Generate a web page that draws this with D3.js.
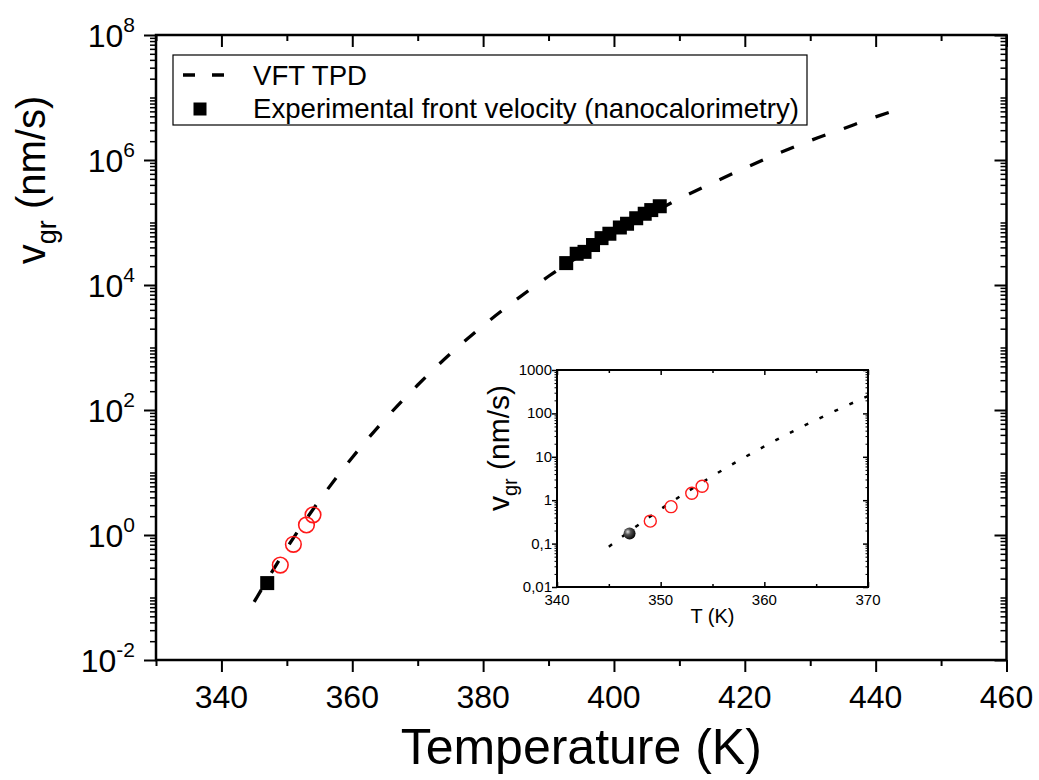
<!DOCTYPE html>
<html><head><meta charset="utf-8">
<script src="https://cdn.jsdelivr.net/npm/d3@7"></script>
<style>
body{margin:0;background:#fff}
svg{display:block}
text{font-family:"Liberation Sans",Arial,Helvetica,sans-serif;fill:#000}
</style>
</head><body>
<svg id="c" width="1039" height="780"></svg>
<script>
// ---- data ----
const curveT = [345, 350, 355, 360, 365, 370, 375, 380, 385, 390, 395, 400, 405, 410, 415, 420, 425, 430, 435, 440, 442];
const curveV = [0.085, 0.62, 3.6, 17.4, 71, 251, 794, 2240, 5750, 13800, 30200, 63100, 126000, 240000, 427000, 741000, 1260000, 2040000, 3160000, 4900000, 5750000];
const expT = [392.7, 394.3, 395.5, 396.8, 398.1, 399.3, 400.9, 402.0, 403.4, 404.7, 405.7, 407.0];
const expV = [22400, 31600, 33900, 43600, 56200, 66100, 83200, 95500, 117000, 138000, 158000, 182000];
const lowT = [347];
const lowV = [0.17];
const openT = [349, 351, 353, 354];
const openV = [0.33, 0.71, 1.45, 2.1];
const xTickVals = [340, 360, 380, 400, 420, 440, 460];
const yTickExps = [-2, 0, 2, 4, 6, 8];
const insetXTicks = [340, 350, 360, 370];
const insetYTicks = [0.01, 0.1, 1, 10, 100, 1000];
const insetYLabels = ["0,01", "0,1", "1", "10", "100", "1000"];
const legendLabels = ["VFT TPD", "Experimental front velocity (nanocalorimetry)"];

const svg = d3.select("#c");
const defs = svg.append("defs");
const g = defs.append("radialGradient").attr("id","sph").attr("cx","35%").attr("cy","35%").attr("r","70%");
g.append("stop").attr("offset","0%").attr("stop-color","#e0e0e0");
g.append("stop").attr("offset","35%").attr("stop-color","#555");
g.append("stop").attr("offset","100%").attr("stop-color","#000");

// fit a dash pattern so that the path starts and ends with a dash
function fitDash(path, dash, period) {
  const len = path.node().getTotalLength();
  const n = Math.max(1, Math.round((len - dash) / period));
  const gap = (len - dash) / n - dash;
  path.attr("stroke-dasharray", `${dash},${gap}`);
}

// ---- main scales ----
const L = 156, R = 1006.5, T = 35, B = 660;
const x = d3.scaleLinear().domain([330, 460]).range([L, R]);
const y = d3.scaleLog().domain([1e-2, 1e8]).range([B, T]);

const minorY = [];
for (let d = -2; d < 8; d++) for (let k = 2; k <= 9; k++) minorY.push(k * Math.pow(10, d));
for (let d = -1; d < 8; d += 2) minorY.push(Math.pow(10, d));
const majorY = yTickExps.map(e => Math.pow(10, e));
const minorX = [330, 350, 370, 390, 410, 430, 450];

function styleAxis(sel, w) {
  sel.select(".domain").remove();
  sel.selectAll(".tick line").attr("stroke", "#000").attr("stroke-width", w);
  sel.selectAll(".tick text").remove();
}
// bottom (outward)
svg.append("g").attr("transform",`translate(0,${B})`).call(d3.axisBottom(x).tickValues(xTickVals).tickSize(12)).call(styleAxis, 2);
svg.append("g").attr("transform",`translate(0,${B})`).call(d3.axisBottom(x).tickValues(minorX).tickSize(6)).call(styleAxis, 2);
// top (inward)
svg.append("g").attr("transform",`translate(0,${T})`).call(d3.axisBottom(x).tickValues(xTickVals).tickSize(12)).call(styleAxis, 2);
svg.append("g").attr("transform",`translate(0,${T})`).call(d3.axisBottom(x).tickValues(minorX).tickSize(6)).call(styleAxis, 2);
// left (outward)
svg.append("g").attr("transform",`translate(${L},0)`).call(d3.axisLeft(y).tickValues(majorY).tickSize(12)).call(styleAxis, 2);
svg.append("g").attr("transform",`translate(${L},0)`).call(d3.axisLeft(y).tickValues(minorY).tickSize(6)).call(styleAxis, 1.5);
// right (inward)
svg.append("g").attr("transform",`translate(${R},0)`).call(d3.axisLeft(y).tickValues(majorY).tickSize(12)).call(styleAxis, 2);
svg.append("g").attr("transform",`translate(${R},0)`).call(d3.axisLeft(y).tickValues(minorY).tickSize(6)).call(styleAxis, 1.5);

svg.append("rect").attr("x", L).attr("y", T).attr("width", R - L).attr("height", B - T)
  .attr("fill", "none").attr("stroke", "#000").attr("stroke-width", 2.5);

// tick labels
svg.append("g").selectAll("text").data(xTickVals).join("text")
  .attr("x", d => x(d)).attr("y", B + 48).attr("text-anchor", "middle")
  .attr("font-size", 32).text(d => d);
const yl = svg.append("g").selectAll("text").data(yTickExps).join("text")
  .attr("x", 135).attr("y", d => y(Math.pow(10, d)) + 12).attr("text-anchor", "end").attr("font-size", 32);
yl.append("tspan").text("10");
yl.append("tspan").attr("dy", -15).attr("font-size", 21).text(d => String(d));

// axis titles
svg.append("text").attr("x", (L + R) / 2).attr("y", 764).attr("text-anchor", "middle")
  .attr("font-size", 50).text("Temperature (K)");
const ylab = svg.append("text").attr("transform", "translate(45,180) rotate(-90)")
  .attr("text-anchor", "middle").attr("font-size", 40);
ylab.append("tspan").text("v");
ylab.append("tspan").attr("dy", 11).attr("font-size", 27).text("gr");
ylab.append("tspan").attr("dy", -11).text(" (nm/s)");

// ---- main series ----
const line = d3.line().x((d, i) => x(curveT[i])).y((d, i) => y(curveV[i])).curve(d3.curveMonotoneX);
const mainPath = svg.append("path").datum(curveV).attr("d", line).attr("fill", "none").attr("stroke", "#000")
  .attr("stroke-width", 3.3);
fitDash(mainPath, 14, 34);

const sq = 14;
svg.append("g").selectAll("rect").data(expV).join("rect")
  .attr("x", (d, i) => x(expT[i]) - sq / 2).attr("y", d => y(d) - sq / 2)
  .attr("width", sq).attr("height", sq).attr("fill", "#000");
svg.append("g").selectAll("rect").data(lowV).join("rect")
  .attr("x", (d, i) => x(lowT[i]) - sq / 2).attr("y", d => y(d) - sq / 2)
  .attr("width", sq).attr("height", sq).attr("fill", "#000");
svg.append("g").selectAll("circle").data(openV).join("circle")
  .attr("cx", (d, i) => x(openT[i])).attr("cy", d => y(d)).attr("r", 7.8)
  .attr("fill", "none").attr("stroke", "#ff1a1a").attr("stroke-width", 1.6);

// ---- legend ----
svg.append("rect").attr("x", 173).attr("y", 55).attr("width", 634).attr("height", 70)
  .attr("fill", "#fff").attr("stroke", "#000").attr("stroke-width", 1.2);
svg.append("line").attr("x1", 183).attr("x2", 225).attr("y1", 75).attr("y2", 75)
  .attr("stroke", "#000").attr("stroke-width", 3.3).attr("stroke-dasharray", "12,17");
svg.append("rect").attr("x", 200 - 6.5).attr("y", 109 - 6.5).attr("width", 13).attr("height", 13).attr("fill", "#000");
svg.append("g").selectAll("text").data(legendLabels).join("text")
  .attr("x", 253).attr("y", (d, i) => 85 + i * 33).attr("font-size", 27.6).text(d => d);

// ---- inset ----
const iL = 557, iR = 868, iT = 370, iB = 587;
const ix = d3.scaleLinear().domain([340, 370]).range([iL, iR]);
const iy = d3.scaleLog().domain([0.01, 1000]).range([iB, iT]);
svg.append("rect").attr("x", iL).attr("y", iT).attr("width", iR - iL).attr("height", iB - iT).attr("fill", "#fff");
const iMinorY = [];
for (let d = -2; d < 3; d++) for (let k = 2; k <= 9; k++) iMinorY.push(k * Math.pow(10, d));
const iMinorX = [345, 355, 365];
svg.append("g").attr("transform",`translate(${iL},0)`).call(d3.axisLeft(iy).tickValues(insetYTicks).tickSize(5)).call(styleAxis, 1.5);
svg.append("g").attr("transform",`translate(${iL},0)`).call(d3.axisLeft(iy).tickValues(iMinorY).tickSize(2.5)).call(styleAxis, 1);
svg.append("g").attr("transform",`translate(${iR},0)`).call(d3.axisLeft(iy).tickValues(insetYTicks).tickSize(5)).call(styleAxis, 1.5);
svg.append("g").attr("transform",`translate(${iR},0)`).call(d3.axisLeft(iy).tickValues(iMinorY).tickSize(2.5)).call(styleAxis, 1);
svg.append("g").attr("transform",`translate(0,${iT})`).call(d3.axisBottom(ix).tickValues(insetXTicks).tickSize(5)).call(styleAxis, 1.5);
svg.append("g").attr("transform",`translate(0,${iT})`).call(d3.axisBottom(ix).tickValues(iMinorX).tickSize(3)).call(styleAxis, 1.5);
svg.append("g").attr("transform",`translate(0,${iB})`).call(d3.axisTop(ix).tickValues(insetXTicks).tickSize(5)).call(styleAxis, 1.5);
svg.append("g").attr("transform",`translate(0,${iB})`).call(d3.axisTop(ix).tickValues(iMinorX).tickSize(3)).call(styleAxis, 1.5);
svg.append("rect").attr("x", iL).attr("y", iT).attr("width", iR - iL).attr("height", iB - iT)
  .attr("fill", "none").attr("stroke", "#000").attr("stroke-width", 2);

svg.append("g").selectAll("text").data(insetXTicks).join("text")
  .attr("x", d => ix(d)).attr("y", iB + 18).attr("text-anchor", "middle").attr("font-size", 15).text(d => d);
svg.append("g").selectAll("text").data(insetYTicks).join("text")
  .attr("x", iL - 5).attr("y", d => iy(d) + 5).attr("text-anchor", "end").attr("font-size", 15)
  .text((d, i) => insetYLabels[i]);
svg.append("text").attr("x", (iL + iR) / 2).attr("y", 623).attr("text-anchor", "middle")
  .attr("font-size", 20).text("T (K)");
const iyl = svg.append("text").attr("transform", "translate(509,448) rotate(-90)")
  .attr("text-anchor", "middle").attr("font-size", 30);
iyl.append("tspan").text("v");
iyl.append("tspan").attr("dy", 8).attr("font-size", 20).text("gr");
iyl.append("tspan").attr("dy", -8).text(" (nm/s)");

defs.append("clipPath").attr("id", "iclip").append("rect")
  .attr("x", iL).attr("y", iT).attr("width", iR - iL).attr("height", iB - iT);
const iIdx = d3.range(curveT.length).filter(i => curveT[i] <= 370);
const iline = d3.line().x(i => ix(curveT[i])).y(i => iy(curveV[i])).curve(d3.curveMonotoneX);
const insetPath = svg.append("path").datum(iIdx).attr("d", iline).attr("clip-path", "url(#iclip)")
  .attr("fill", "none").attr("stroke", "#000").attr("stroke-width", 2.5);
fitDash(insetPath, 4, 16.5);
svg.append("g").selectAll("circle").data(openV).join("circle")
  .attr("cx", (d, i) => ix(openT[i])).attr("cy", d => iy(d)).attr("r", 6)
  .attr("fill", "none").attr("stroke", "#ff1a1a").attr("stroke-width", 1.4);
svg.append("g").selectAll("circle").data(lowV).join("circle")
  .attr("cx", (d, i) => ix(lowT[i])).attr("cy", d => iy(d)).attr("r", 6)
  .attr("fill", "url(#sph)");
</script>
</body></html>
